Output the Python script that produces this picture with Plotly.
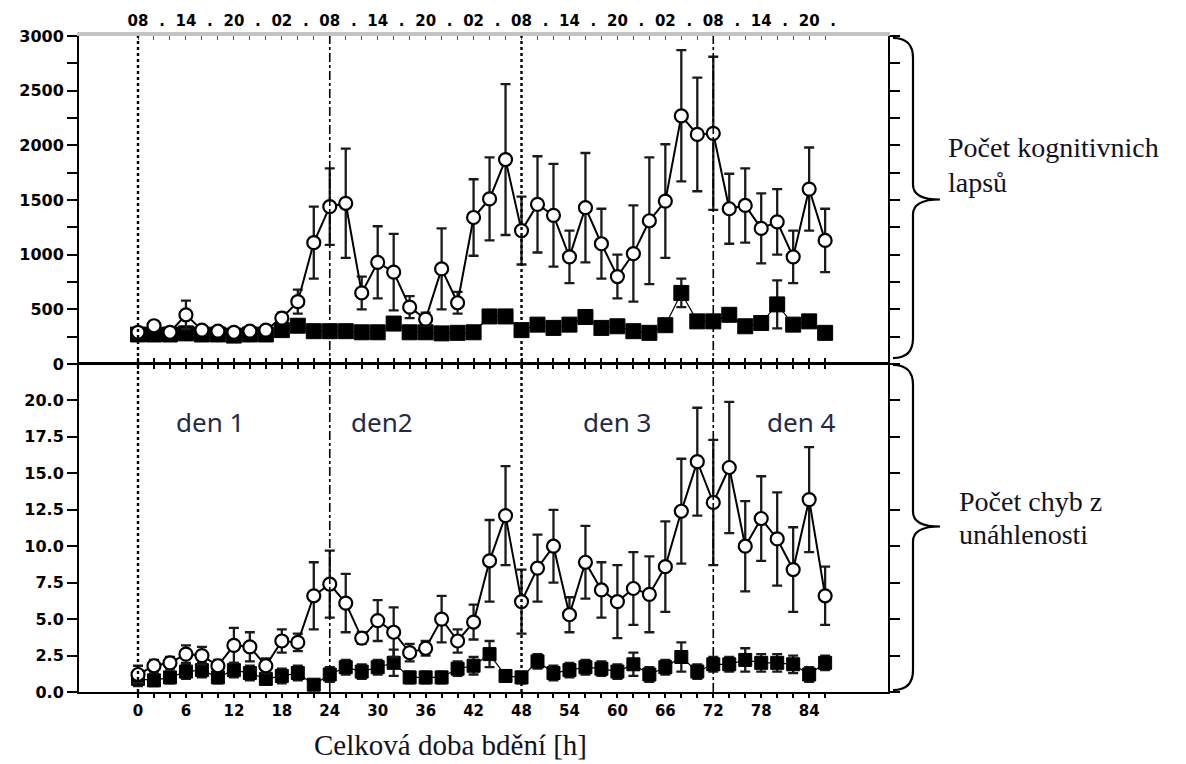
import plotly.graph_objects as go

# ---------------- data ----------------
hours = list(range(0, 88, 2))

lapses_open = [290, 350, 290, 450, 310, 300, 290, 300, 310, 420, 570, 1110, 1440, 1470,
               650, 930, 840, 520, 410, 870, 560, 1340, 1510, 1870, 1220, 1460, 1360, 980,
               1430, 1100, 800, 1010, 1310, 1490, 2270, 2100, 2110, 1420, 1450, 1240, 1300,
               980, 1600, 1130]
lapses_open_err = [30, 40, 30, 130, 30, 30, 30, 30, 40, 50, 110, 330, 350, 500,
                   150, 330, 350, 100, 60, 370, 100, 350, 380, 690, 310, 440, 470, 240,
                   500, 320, 200, 440, 580, 520, 600, 520, 700, 320, 340, 320, 300,
                   240, 380, 290]
lapses_filled = [270, 270, 270, 280, 270, 270, 260, 270, 270, 310, 350, 300, 300, 300,
                 290, 290, 370, 290, 290, 280, 285, 290, 435, 435, 310, 360, 330, 360,
                 430, 330, 345, 300, 285, 355, 650, 390, 390, 450, 345, 375, 545,
                 360, 390, 285]
lapses_filled_err = [40, 40, 40, 60, 40, 40, 40, 40, 40, 40, 40, 40, 40, 40,
                     40, 40, 50, 40, 40, 40, 40, 40, 50, 40, 40, 40, 40, 40,
                     50, 40, 40, 40, 40, 40, 130, 40, 40, 50, 40, 40, 220,
                     40, 40, 40]

errors_open = [1.2, 1.8, 2.0, 2.6, 2.5, 1.8, 3.2, 3.1, 1.8, 3.5, 3.4, 6.6, 7.4, 6.1,
               3.7, 4.9, 4.1, 2.7, 3.0, 5.0, 3.5, 4.8, 9.0, 12.1, 6.2, 8.5, 10.0, 5.3,
               8.9, 7.0, 6.2, 7.1, 6.7, 8.6, 12.4, 15.8, 13.0, 15.4, 10.0, 11.9, 10.5,
               8.4, 13.2, 6.6]
errors_open_err = [0.6, 0.4, 0.4, 0.6, 0.6, 0.4, 1.2, 1.0, 0.5, 0.8, 0.6, 2.3, 2.3, 2.0,
                   0.4, 1.4, 1.7, 0.6, 0.5, 1.6, 0.8, 1.2, 2.8, 3.4, 2.2, 2.3, 2.5, 1.2,
                   2.5, 1.9, 2.5, 2.5, 2.6, 3.1, 3.6, 3.7, 4.3, 4.5, 3.1, 2.9, 3.2,
                   2.9, 3.6, 2.0]
errors_filled = [0.9, 0.8, 1.0, 1.4, 1.5, 1.0, 1.5, 1.3, 0.9, 1.1, 1.3, 0.5, 1.2, 1.7,
                 1.4, 1.7, 2.0, 1.0, 1.0, 1.0, 1.6, 1.8, 2.6, 1.1, 1.0, 2.1, 1.3, 1.5,
                 1.7, 1.6, 1.4, 1.9, 1.2, 1.7, 2.4, 1.4, 1.9, 1.9, 2.2, 2.0, 2.0,
                 1.9, 1.2, 2.0]
errors_filled_err = [0.5, 0.4, 0.4, 0.5, 0.5, 0.4, 0.5, 0.5, 0.4, 0.5, 0.5, 0.3, 0.5, 0.5,
                     0.5, 0.5, 0.9, 0.4, 0.4, 0.4, 0.5, 0.6, 0.9, 0.4, 0.4, 0.5, 0.5, 0.5,
                     0.5, 0.5, 0.5, 0.8, 0.5, 0.5, 1.0, 0.5, 0.5, 0.5, 0.8, 0.6, 0.6,
                     0.6, 0.5, 0.5]

bottom_ticks = list(range(0, 88, 2))
bottom_labels = [str(h) if h % 6 == 0 and h <= 84 else "" for h in bottom_ticks]
top_ticks = list(range(0, 88, 3))
clock = ["08", "14", "20", "02"]
top_labels = [clock[(h // 6) % 4] if h % 6 == 0 else "." for h in top_ticks]
lapse_ticks = [0, 500, 1000, 1500, 2000, 2500, 3000]
err_ticks = [0, 2.5, 5, 7.5, 10, 12.5, 15, 17.5, 20]
err_labels = ["0.0", "2.5", "5.0", "7.5", "10.0", "12.5", "15.0", "17.5", "20.0"]
day_bounds = [0, 24, 48, 72]
day_names = ["den 1", "den2", "den 3", "den 4"]
day_label_x = [9, 30.5, 60, 83]

# ---------------- figure ----------------
W, H = 1186, 764
L, R, T, B = 79, 888, 30, 692

def px(x):
    return (x - L) / (R - L)

def py(y):
    return (B - y) / (B - T)

fig = go.Figure()

def add_series(x, y, err, xa, ya, filled, size):
    if filled:
        marker = dict(symbol="square", size=size, color="black", line=dict(color="black", width=1))
    else:
        marker = dict(symbol="circle", size=size, color="white", line=dict(color="black", width=2.2))
    fig.add_trace(go.Scatter(
        x=x, y=y, mode="lines+markers", xaxis=xa, yaxis=ya,
        line=dict(color="black", width=2 if not filled else 1.2),
        marker=marker,
        error_y=dict(type="data", array=err, color="#1a1a1a", thickness=2.3, width=5),
        showlegend=False, hoverinfo="skip"))

add_series(hours, lapses_filled, lapses_filled_err, "x", "y", True, 15)
add_series(hours, lapses_open, lapses_open_err, "x", "y", False, 13)
add_series(hours, errors_filled, errors_filled_err, "x2", "y2", True, 13)
add_series(hours, errors_open, errors_open_err, "x2", "y2", False, 13)
# invisible trace to activate top clock axis
fig.add_trace(go.Scatter(x=[hours[0], hours[-1]], y=[0, 0], xaxis="x3", yaxis="y",
                         mode="markers", marker=dict(opacity=0), showlegend=False,
                         hoverinfo="skip"))

xr = [-(138 - L) / 7.99, (R - 138) / 7.99]
ytickfont = dict(family="DejaVu Sans", size=16, color="black", weight="bold")

fig.update_layout(
    width=W, height=H, paper_bgcolor="white", plot_bgcolor="white",
    margin=dict(l=L, r=W - R, t=T, b=H - B),
    xaxis=dict(domain=[0, 1], anchor="y", range=xr, showgrid=False, zeroline=False,
               showline=False, tickvals=bottom_ticks, ticktext=[""] * len(bottom_ticks),
               ticks="outside", ticklen=4, tickwidth=1.5, tickcolor="black"),
    yaxis=dict(domain=[0.5, 1], anchor="x", range=[0, 3000], showgrid=False, zeroline=False,
               showline=True, linecolor="black", linewidth=2, mirror="allticks",
               tickvals=lapse_ticks, ticktext=[str(v) for v in lapse_ticks],
               ticks="outside", ticklen=10, tickwidth=1.5, tickcolor="black",
               minor=dict(tickvals=[250, 750, 1250, 1750, 2250, 2750], ticks="outside",
                          ticklen=6, tickcolor="black"),
               tickfont=ytickfont),
    xaxis2=dict(domain=[0, 1], anchor="y2", range=xr, showgrid=False, zeroline=False,
                showline=True, linecolor="black", linewidth=2, mirror="ticks",
                tickvals=bottom_ticks, ticktext=bottom_labels,
                ticks="outside", ticklen=4, tickwidth=1.5, tickcolor="black",
                tickfont=dict(family="DejaVu Sans", size=15, color="black", weight="bold")),
    yaxis2=dict(domain=[0, 0.5], anchor="x2", range=[0, 22.5], showgrid=False, zeroline=False,
                showline=True, linecolor="black", linewidth=2, mirror="allticks",
                tickvals=err_ticks, ticktext=err_labels,
                ticks="outside", ticklen=10, tickwidth=1.5, tickcolor="black",
                tickfont=ytickfont),
    xaxis3=dict(overlaying="x", side="top", anchor="y", range=xr, showgrid=False,
                zeroline=False, showline=True, linecolor="#c4c4c4", linewidth=4,
                tickvals=top_ticks, ticktext=top_labels, ticks="", ticklabelstandoff=0,
                minor=dict(tickvals=bottom_ticks, ticks="inside", ticklen=4, tickcolor="#555555"),
                tickfont=dict(family="DejaVu Sans", size=15, color="black", weight="bold")),
)

shapes = []
# middle divider line
shapes.append(dict(type="line", xref="paper", yref="paper", x0=px(68), x1=1, y0=0.5, y1=0.5,
                   line=dict(color="black", width=2)))
# day boundaries
for i, d in enumerate(day_bounds):
    shapes.append(dict(type="line", xref="x", yref="paper", x0=d, x1=d, y0=0, y1=1,
                       line=dict(color="black", width=2.4 if i % 2 == 0 else 1.6,
                                 dash="dot" if i % 2 == 0 else "dashdot")))

def brace(y0, y1, ytip):
    xl, xm, xt = 893, 913, 940
    pts = [
        ("M", [(xl, y0)]),
        ("Q", [(xm, y0), (xm, y0 + 20)]),
        ("L", [(xm, ytip - 15)]),
        ("Q", [(xm, ytip), (xt, ytip)]),
        ("Q", [(xm, ytip), (xm, ytip + 15)]),
        ("L", [(xm, y1 - 20)]),
        ("Q", [(xm, y1), (xl, y1)]),
    ]
    s = ""
    for cmd, ps in pts:
        s += cmd + " " + " ".join(f"{px(a):.5f},{py(b):.5f}" for a, b in ps) + " "
    return dict(type="path", xref="paper", yref="paper", path=s.strip(),
                line=dict(color="black", width=2.2))

shapes.append(brace(32, 355, 195))
shapes.append(brace(362, 690, 525))
fig.update_layout(shapes=shapes)

annots = []
for name, xd in zip(day_names, day_label_x):
    annots.append(dict(x=xd, xref="x", y=py(420), yref="paper", text=name, showarrow=False,
                       font=dict(family="Noto Sans", size=26, color="#1f2a4a"),
                       xanchor="center", yanchor="middle"))
serif = dict(family="Liberation Serif", size=28, color="#111122")
for txt, x0, y0 in [("Počet kognitivnich", 946, 143), ("lapsů", 946, 178),
                    ("Počet chyb z", 957, 500), ("unáhlenosti", 957, 533)]:
    annots.append(dict(x=px(x0), xref="paper", y=py(y0), yref="paper", text=txt,
                       showarrow=False, font=serif, xanchor="left", yanchor="middle"))
annots.append(dict(x=px(450), xref="paper", y=py(745), yref="paper",
                   text="Celková doba bdění [h]", showarrow=False,
                   font=dict(family="Liberation Serif", size=29, color="#111122"),
                   xanchor="center", yanchor="middle"))
fig.update_layout(annotations=annots)

fig.write_html("out.html")
